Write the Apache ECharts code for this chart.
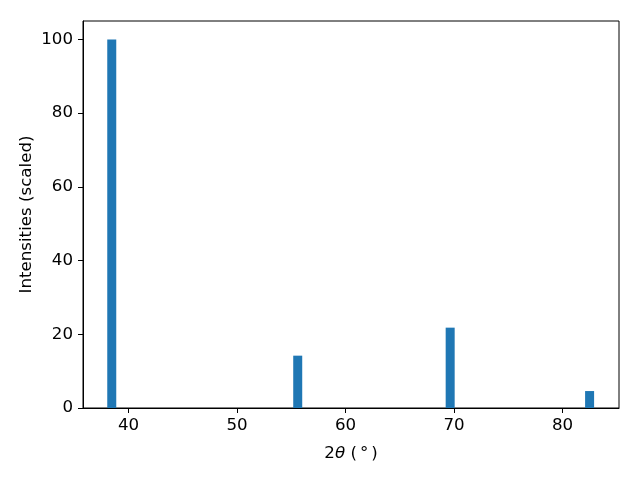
<!DOCTYPE html>
<html><head><meta charset="utf-8">
<script src="https://cdn.jsdelivr.net/npm/echarts@6/dist/echarts.min.js"></script>
<style>html,body{margin:0;padding:0;background:#fff}#c{width:640px;height:480px}</style>
</head><body><div id="c"></div>
<script>
const peakPositions = [38.45, 55.59, 69.64, 82.49];
const intensities = [100, 14.2, 21.8, 4.6];
const xTicks = [40, 50, 60, 70, 80];
const yTicks = [0, 20, 40, 60, 80, 100];
const barWidthDeg = 0.83;

const data = peakPositions.map((p, i) => [p, intensities[i]]);
const font = 'DejaVu Sans';
const fs = 16.67;
const chart = echarts.init(document.getElementById('c'));
chart.setOption({
  animation: false,
  grid: {left: 83, right: 21, top: 21, bottom: 72, show: true, borderColor: '#000', borderWidth: 1},
  xAxis: {
    type: 'value', min: 35.8, max: 85.2,
    name: '{n|2}{i|θ}{n| (}{d|°}{n|)}', nameLocation: 'middle', nameGap: 37,
    nameTextStyle: {rich: {
      n: {fontFamily: font, fontSize: fs, color: '#000'},
      i: {fontFamily: font, fontSize: fs, fontStyle: 'italic', color: '#000'},
      d: {fontFamily: font, fontSize: fs, color: '#000', padding: [0, 3, 0, 3]}
    }},
    axisLine: {show: true, lineStyle: {color: '#000'}},
    axisTick: {show: true, inside: false, length: 5, lineStyle: {color: '#000'}, customValues: xTicks},
    axisLabel: {fontFamily: font, fontSize: fs, color: '#000', margin: 9, customValues: xTicks},
    splitLine: {show: false}
  },
  yAxis: {
    type: 'value', min: 0, max: 105,
    name: 'Intensities (scaled)', nameLocation: 'middle', nameGap: 48, nameMoveOverlap: false,
    nameTextStyle: {fontFamily: font, fontSize: fs, color: '#000'},
    axisLine: {show: true, lineStyle: {color: '#000'}},
    axisTick: {show: true, inside: false, length: 5, lineStyle: {color: '#000'}, customValues: yTicks},
    axisLabel: {fontFamily: font, fontSize: fs, color: '#000', margin: 10, customValues: yTicks},
    splitLine: {show: false}
  },
  series: [{
    type: 'custom',
    data: data,
    renderItem: function (params, api) {
      const x = api.value(0), y = api.value(1);
      const p1 = api.coord([x - barWidthDeg / 2, y]);
      const p2 = api.coord([x + barWidthDeg / 2, 0]);
      return {type: 'rect', shape: {x: p1[0], y: p1[1], width: p2[0] - p1[0], height: p2[1] - p1[1]},
        style: {fill: '#1f77b4', stroke: null}};
    }
  }]
});
</script></body></html>
